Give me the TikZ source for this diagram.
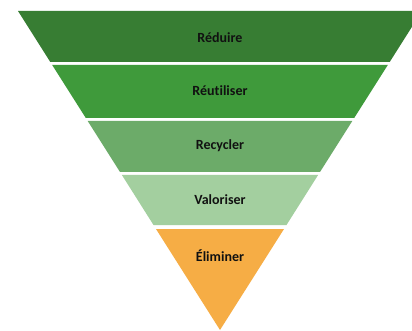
\documentclass[tikz,border=0pt]{standalone}
\usepackage{fontspec}
\setmainfont[Ligatures={NoCommon,NoDiscretionary,NoRare}]{Carlito}
\definecolor{bandA}{HTML}{377D33}
\definecolor{bandB}{HTML}{3F9A3B}
\definecolor{bandC}{HTML}{6CAB69}
\definecolor{bandD}{HTML}{A3CF9F}
\definecolor{bandE}{HTML}{F6AD45}
\definecolor{txt}{HTML}{111111}
\tikzset{
  band/.style={fill=#1, draw=none},
  lbl/.style={font=\fontsize{14}{16}\selectfont\bfseries, text=txt, inner sep=0pt, anchor=center}
}
\begin{document}
\begin{tikzpicture}[x=1pt,y=-1pt]
\useasboundingbox (0,0) rectangle (412,331);
\fill[white] (0,0) rectangle (412,331);
\clip (0,0) rectangle (412,331);
\path[band=bandA] (18,11) -- (422,11) -- (389.7,62) -- (50.3,62) -- cycle;
\path[band=bandB] (52.2,65) -- (387.8,65) -- (354.2,118) -- (85.8,118) -- cycle;
\path[band=bandC] (87.7,121) -- (352.3,121) -- (320,172) -- (120,172) -- cycle;
\path[band=bandD] (121.9,175) -- (318.1,175) -- (286.5,225) -- (153.5,225) -- cycle;
\path[band=bandE] (156,229) -- (284,229) -- (220,330) -- cycle;
\node[lbl] (reduire) at (220,38) {Réduire};
\node[lbl] (reutiliser) at (220,91) {Réutiliser};
\node[lbl] (recycler) at (220,146) {Recycler};
\node[lbl] (valoriser) at (220,200) {Valoriser};
\node[lbl] (eliminer) at (220,256) {Éliminer};
\end{tikzpicture}
\end{document}
